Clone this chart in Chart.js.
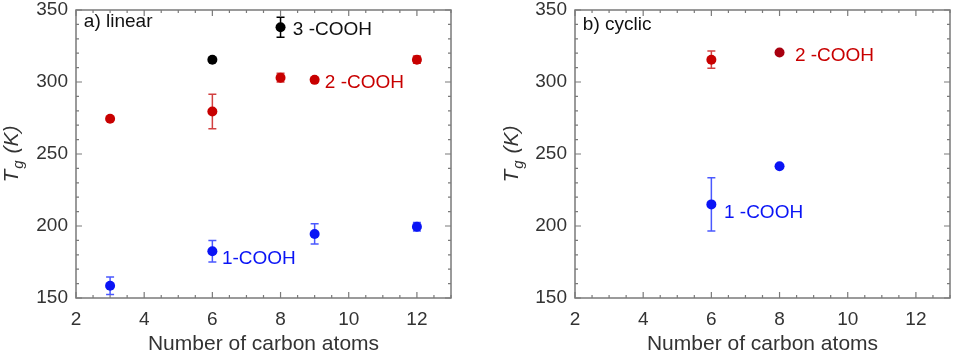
<!DOCTYPE html>
<html>
<head>
<meta charset="utf-8">
<script src="https://cdn.jsdelivr.net/npm/chart.js@4.4.1/dist/chart.umd.min.js"></script>
<style>
  html, body { margin: 0; padding: 0; background: #fff; }
  body { width: 955px; height: 357px; position: relative; overflow: hidden; }
  .panel { position: absolute; top: 0; height: 357px; }
</style>
</head>
<body>
<div class="panel" id="pL" style="left:0px;width:460px;"><canvas id="cL"></canvas></div>
<div class="panel" id="pR" style="left:480px;width:475px;"><canvas id="cR"></canvas></div>
<script>
// ---------- data ----------
const xTicks = [2, 4, 6, 8, 10, 12];
const yTicks = [150, 200, 250, 300, 350];

// a) linear
const linearCarbons1 = [3, 6, 9, 12];
const linearTg1      = [158.5, 182.5, 194.5, 199.5];
const linearErr1     = [6, 7.5, 7, 3];

const linearCarbons2 = [3, 6, 8, 9, 12];
const linearTg2      = [274.5, 279.5, 303, 301.5, 315.5];
const linearErr2     = [1, 12, 3, 0, 2.5];

const linearCarbons3 = [6];
const linearTg3      = [315.5];
const linearErr3     = [0];

// key marker shown next to "3 -COOH"
const keyCarbons3 = [8];
const keyTg3      = [338];
const keyErr3     = [7];

// b) cyclic
const cyclicCarbons1 = [6, 8];
const cyclicTg1      = [215, 241.5];
const cyclicErr1     = [18.5, 0];

const cyclicCarbons2 = [6, 8];
const cyclicTg2      = [315.5, 320.5];
const cyclicErr2     = [6, 0];

// ---------- styling ----------
const FONT = "'Liberation Sans', Arial, Helvetica, sans-serif";
const BLUE = '#0a14f5', BLUE_ERR = '#4a58ff';
const RED = '#c80000', RED_DARK = '#a8000f', RED_ERR = '#d24040';
const BLACK = '#000000';
const FRAME = '#7a7a7a';
const TEXT = '#333333';

function pts(xs, ys) { return xs.map((x, i) => ({ x: x, y: ys[i] })); }

function ds(xs, ys, errs, color, errColor, pointColors) {
  return {
    data: pts(xs, ys),
    errs: errs,
    errColor: errColor,
    showLine: false,
    pointRadius: 5,
    pointHoverRadius: 5,
    pointBorderWidth: 0,
    backgroundColor: pointColors || color,
    borderColor: pointColors || color
  };
}

const extras = {
  id: 'extras',
  beforeDatasetsDraw(chart) {
    const ctx = chart.ctx, xs = chart.scales.x, ys = chart.scales.y;
    ctx.save();
    chart.data.datasets.forEach(d => {
      d.data.forEach((p, i) => {
        const e = d.errs[i];
        if (!e) return;
        const px = xs.getPixelForValue(p.x);
        const y1 = ys.getPixelForValue(p.y + e), y2 = ys.getPixelForValue(p.y - e);
        ctx.strokeStyle = d.errColor;
        ctx.lineWidth = 1.5;
        ctx.beginPath();
        ctx.moveTo(px, y1); ctx.lineTo(px, y2);
        ctx.moveTo(px - 4, y1); ctx.lineTo(px + 4, y1);
        ctx.moveTo(px - 4, y2); ctx.lineTo(px + 4, y2);
        ctx.stroke();
      });
    });
    ctx.restore();
  },
  afterDraw(chart, args, opts) {
    const ctx = chart.ctx, xs = chart.scales.x, ys = chart.scales.y;
    const a = chart.chartArea;
    ctx.save();
    // frame
    ctx.strokeStyle = FRAME;
    ctx.lineWidth = 1.5;
    ctx.strokeRect(a.left, a.top, a.right - a.left, a.bottom - a.top);
    // ticks (inward on all sides)
    ctx.lineWidth = 1.2;
    ctx.beginPath();
    for (let v = 2; v <= 13.001; v += 0.5) {
      const px = xs.getPixelForValue(v);
      const len = (Math.abs(v % 2) < 1e-6) ? 6 : 3;
      ctx.moveTo(px, a.bottom); ctx.lineTo(px, a.bottom - len);
      ctx.moveTo(px, a.top); ctx.lineTo(px, a.top + len);
    }
    for (let v = 150; v <= 350; v += 10) {
      const py = ys.getPixelForValue(v);
      const len = (v % 50 === 0) ? 6 : 3;
      ctx.moveTo(a.left, py); ctx.lineTo(a.left + len, py);
      ctx.moveTo(a.right, py); ctx.lineTo(a.right - len, py);
    }
    ctx.stroke();
    // annotations
    ctx.textBaseline = 'middle';
    ctx.textAlign = 'left';
    (opts.labels || []).forEach(l => {
      ctx.fillStyle = l.color;
      ctx.font = '19px ' + FONT;
      ctx.fillText(l.text, xs.getPixelForValue(l.x), ys.getPixelForValue(l.y));
    });
    // y title: T_g (K)
    const cy = (a.top + a.bottom) / 2;
    const tx = opts.titleX;
    ctx.translate(tx, cy);
    ctx.rotate(-Math.PI / 2);
    ctx.fillStyle = TEXT;
    const fT = 'italic 21px ' + FONT, fg = 'italic 15px ' + FONT;
    ctx.font = fT; const wT = ctx.measureText('T').width;
    ctx.font = fg; const wg = ctx.measureText('g').width;
    ctx.font = fT; const wK = ctx.measureText(' (K)').width;
    let x0 = -(wT + wg + 2 + wK) / 2;
    ctx.textBaseline = 'middle';
    ctx.font = fT; ctx.fillText('T', x0, 0);
    ctx.font = fg; ctx.fillText('g', x0 + wT + 1, 7);
    ctx.font = fT; ctx.fillText(' (K)', x0 + wT + wg + 2, 0);
    ctx.restore();
  }
};

function makeChart(canvasId, datasets, yWidth, padRight, labels, titleX) {
  return new Chart(document.getElementById(canvasId), {
    type: 'scatter',
    data: { datasets: datasets },
    plugins: [extras],
    options: {
      responsive: true,
      maintainAspectRatio: false,
      animation: false,
      events: [],
      layout: { padding: { top: 10, right: padRight, bottom: 0, left: 0 } },
      plugins: {
        legend: { display: false },
        tooltip: { enabled: false },
        extras: { labels: labels, titleX: titleX }
      },
      scales: {
        x: {
          type: 'linear', min: 2, max: 13,
          grid: { display: false, drawTicks: false },
          border: { display: false },
          afterBuildTicks: s => { s.ticks = xTicks.map(v => ({ value: v })); },
          afterFit: s => { s.height = 59; s.paddingLeft = 0; s.paddingRight = 0; },
          ticks: { padding: 10, color: TEXT, font: { family: FONT, size: 19 }, maxRotation: 0 },
          title: {
            display: true, text: 'Number of carbon atoms', color: TEXT,
            font: { family: FONT, size: 21 }, padding: { top: 1, bottom: 0 }
          }
        },
        y: {
          type: 'linear', min: 150, max: 350,
          grid: { display: false, drawTicks: false },
          border: { display: false },
          afterBuildTicks: s => { s.ticks = yTicks.map(v => ({ value: v })); },
          afterFit: s => { s.width = yWidth; s.paddingTop = 0; s.paddingBottom = 0; },
          ticks: { padding: 8, color: TEXT, font: { family: FONT, size: 19 } }
        }
      }
    }
  });
}

makeChart('cL', [
  ds(linearCarbons1, linearTg1, linearErr1, BLUE, BLUE_ERR),
  ds(linearCarbons2, linearTg2, linearErr2, RED, RED_ERR),
  ds(linearCarbons3, linearTg3, linearErr3, BLACK, BLACK),
  ds(keyCarbons3, keyTg3, keyErr3, BLACK, BLACK)
], 76, 9, [
  { text: 'a) linear', x: 2.23, y: 341.5, color: '#111111' },
  { text: '3 -COOH', x: 8.36, y: 336.5, color: '#111111' },
  { text: '2 -COOH', x: 9.30, y: 299.5, color: RED },
  { text: '1-COOH', x: 6.28, y: 177.5, color: BLUE }
], 12);

makeChart('cR', [
  ds(cyclicCarbons1, cyclicTg1, cyclicErr1, BLUE, BLUE_ERR),
  ds(cyclicCarbons2, cyclicTg2, cyclicErr2, RED, RED_ERR, [RED, RED_DARK])
], 95, 5, [
  { text: 'b) cyclic', x: 2.23, y: 340, color: '#111111' },
  { text: '2 -COOH', x: 8.45, y: 318.5, color: RED },
  { text: '1 -COOH', x: 6.37, y: 209.5, color: BLUE }
], 32);
</script>
</body>
</html>
